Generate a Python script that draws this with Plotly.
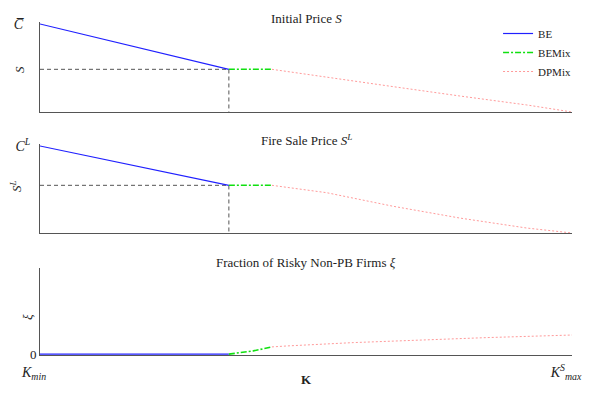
import plotly.graph_objects as go

# ---------------- data ----------------
# capital K normalised: 0 = K_min, 1 = K^S_max
K_be = [0.0, 0.355]
K_bemix = [0.355, 0.436]
K_dp = [0.436, 0.539, 0.664, 0.789, 0.915, 1.0]

# Initial price S (C-bar = 1)
S_be = [1.0, 0.485]
S_bemix = [0.485, 0.485]
S_dp = [0.485, 0.394, 0.288, 0.182, 0.080, 0.0]

# Fire sale price S^L (C^L = 1)
SL_be = [1.0, 0.548]
SL_bemix = [0.548, 0.548]
SL_dp = [0.548, 0.463, 0.307, 0.172, 0.057, 0.0]

# Fraction of risky non-PB firms xi
K_xi_bemix = [0.355, 0.401, 0.436]
xi_be = [0.0, 0.0]
xi_bemix = [0.0, 0.038, 0.084]
K_xi_dp = [0.436, 0.464, 0.589, 0.714, 0.840, 1.0]
xi_dp = [0.084, 0.095, 0.134, 0.164, 0.192, 0.222]

# reference (threshold) levels
K_star = 0.355
S_star = 0.485
SL_star = 0.548

series_names = ["BE", "BEMix", "DPMix"]

# ---------------- styles ----------------
FONT = "Liberation Serif"
BLUE = "#2020ff"
GREEN = "#10e010"
RED = "#ff9a9a"
REF = "#555555"

fig = go.Figure()

def add_panel(k_lists, y_lists, xa, ya, show_legend):
    styles = [dict(color=BLUE, width=1.2, dash="solid"),
              dict(color=GREEN, width=1.6, dash="6px,2px,2px,2px"),
              dict(color=RED, width=1, dash="2px,2px")]
    for name, kx, yy, st in zip(series_names, k_lists, y_lists, styles):
        fig.add_trace(go.Scatter(x=kx, y=yy, mode="lines", name=name,
                                 line=st, xaxis=xa, yaxis=ya,
                                 showlegend=show_legend, hoverinfo="skip"))

def add_ref(level, xa, ya):
    fig.add_trace(go.Scatter(x=[0, K_star, K_star], y=[level, level, 0],
                             mode="lines", line=dict(color=REF, width=1, dash="4px,3px"),
                             xaxis=xa, yaxis=ya, showlegend=False, hoverinfo="skip"))

add_ref(S_star, "x", "y")
add_ref(SL_star, "x2", "y2")
add_panel([K_be, K_bemix, K_dp], [S_be, S_bemix, S_dp], "x", "y", True)
add_panel([K_be, K_bemix, K_dp], [SL_be, SL_bemix, SL_dp], "x2", "y2", False)
add_panel([K_be, K_xi_bemix, K_xi_dp], [xi_be, xi_bemix, xi_dp], "x3", "y3", False)

# ---------------- layout ----------------
# the page body adds an 8px offset, so the figure is 8px smaller each way
PAGE_OFF = 8
TOP, BOT = 22, 355          # positions in window pixels
H = BOT - TOP

def dom(top_px, bot_px):
    return [(BOT - bot_px) / H, (BOT - top_px) / H]

def py(px):
    return (BOT - px) / H

axis_common = dict(showline=True, linecolor=REF, linewidth=1, showgrid=False,
                   zeroline=False, mirror=False, automargin=False)
tickfont = dict(family=FONT, size=14, color="#222")

fig.update_layout(
    width=600 - PAGE_OFF, height=394 - PAGE_OFF,
    margin=dict(l=40 - PAGE_OFF, r=28, t=TOP - PAGE_OFF, b=394 - BOT, autoexpand=False),
    paper_bgcolor="white", plot_bgcolor="white",
    font=dict(family=FONT, size=12, color="#222"),
    showlegend=True,
    legend=dict(x=0.861, y=py(19), xanchor="left", yanchor="top",
                font=dict(family=FONT, size=11, color="#222"),
                bgcolor="rgba(0,0,0,0)", borderwidth=0, tracegroupgap=0),
    xaxis=dict(domain=[0, 1], range=[0, 1], anchor="y", showticklabels=False,
               ticks="", **axis_common),
    xaxis2=dict(domain=[0, 1], range=[0, 1], anchor="y2", showticklabels=False,
                ticks="", **axis_common),
    xaxis3=dict(domain=[0, 1], range=[0, 1], anchor="y3", ticks="inside", ticklen=4,
                tickcolor=REF, tickvals=[0, 1],
                ticktext=["<i>K</i><sub><i>min</i></sub>",
                          "<i>K</i><sup><i>S</i></sup><sub><i>max</i></sub>"],
                tickfont=tickfont, ticklabelstandoff=4, ticklabelshift=-6,
                **axis_common),
    yaxis=dict(domain=dom(22, 112), range=[0, 90 / 88], anchor="x", ticks="",
               tickvals=[1], ticktext=["<i>C\u0305</i>"], tickfont=tickfont,
               ticklabelstandoff=13, **axis_common),
    yaxis2=dict(domain=dom(144, 233), range=[0, 89 / 87], anchor="x2", ticks="",
                tickvals=[1], ticktext=["<i>C</i><sup><i>L</i></sup>"], tickfont=tickfont,
                ticklabelstandoff=6, **axis_common),
    yaxis3=dict(domain=dom(268, 355), range=[-0.01, 1], anchor="x3", ticks="",
                tickvals=[0], ticktext=["0"], tickfont=dict(family=FONT, size=13, color="#222"),
                ticklabelstandoff=0, **axis_common),
)

annots = [
    dict(text="Initial Price <i>S</i>", x=0.5, y=py(18)),
    dict(text="Fire Sale Price <i>S</i><sup><i>L</i></sup>", x=0.5, y=py(140)),
    dict(text="Fraction of Risky Non-PB Firms <i>\u03be</i>", x=0.5, y=py(262)),
]
for a in annots:
    fig.add_annotation(xref="paper", yref="paper", showarrow=False,
                       xanchor="center", yanchor="middle",
                       font=dict(family=FONT, size=13, color="#222"), **a)

ytitles = [("<i>S</i>", py(70)), ("<i>S</i><sup><i>L</i></sup>", py(186)), ("<i>\u03be</i>", py(317))]
xs = [-20, -24, -13]
for (t, yy), xsh in zip(ytitles, xs):
    fig.add_annotation(text=t, xref="paper", yref="paper", x=0, y=yy, xshift=xsh,
                       showarrow=False, textangle=-90, xanchor="center", yanchor="middle",
                       font=dict(family=FONT, size=13, color="#222"))

fig.add_annotation(text="<b>K</b>", xref="paper", yref="paper", x=0.5, y=py(379),
                   showarrow=False, xanchor="center", yanchor="middle",
                   font=dict(family=FONT, size=13, color="#222"))

fig.write_html("out.html")
